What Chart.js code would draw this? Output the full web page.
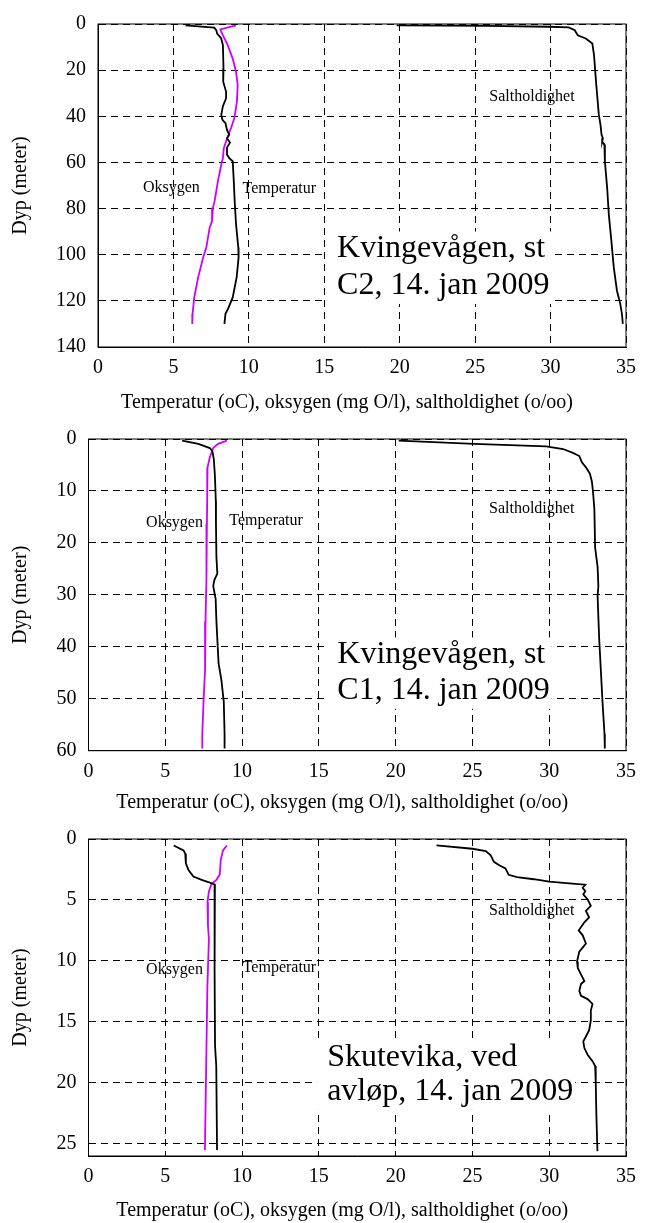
<!DOCTYPE html>
<html>
<head>
<meta charset="utf-8">
<script src="https://cdn.jsdelivr.net/npm/chart.js@4.4.1/dist/chart.umd.min.js"></script>
<style>
  html, body { margin: 0; padding: 0; background: #fff; }
  canvas { position: absolute; left: 0; display: block; }
</style>
</head>
<body>
<canvas id="c2Chart" width="645" height="415" style="top:0px"></canvas>
<canvas id="c1Chart" width="645" height="400" style="top:415px"></canvas>
<canvas id="skChart" width="645" height="408" style="top:815px"></canvas>
<script>
// Kvingevågen st C2
const c2TempX = [5.8, 7.7, 7.84, 7.9, 8.17, 8.28, 8.32, 8.3, 8.49, 8.49, 8.28, 8.17, 8.25, 8.45, 8.55, 8.7, 8.55, 8.75, 8.55, 8.55, 8.7, 8.93, 9.0, 9.06, 9.15, 9.3, 9.32, 9.19, 8.93, 8.62, 8.45, 8.38];
const c2TempDepth = [0.6, 1.6, 2.7, 4.2, 6.3, 9.2, 19.3, 25, 29.3, 32.2, 35.6, 39.4, 41.5, 43, 45.9, 48, 49.5, 51.4, 53.6, 56.6, 58.1, 59.5, 68, 76.8, 86.8, 96.9, 101.2, 109.8, 118.5, 123.5, 125.6, 130];
const c2OxyX = [9.15, 8.12, 8.17, 8.6, 8.93, 9.15, 9.26, 9.21, 9.04, 8.82, 8.56, 8.34, 8.28, 8.17, 7.95, 7.73, 7.62, 7.56, 7.4, 7.18, 6.97, 6.64, 6.38, 6.27, 6.25];
const c2OxyDepth = [0.6, 2.3, 3.4, 9.2, 15, 20.7, 26.4, 33.6, 40.8, 45.1, 49.5, 53.8, 58.1, 61, 68.1, 76.8, 79.6, 85.4, 88.3, 96.9, 101.2, 109.8, 118.5, 125.6, 130];
const c2SaltX = [19.8, 25.8, 29.9, 31.2, 31.6, 31.8, 32.33, 32.77, 32.88, 33.03, 33.2, 33.31, 33.38, 33.47, 33.42, 33.57, 33.6, 33.75, 33.86, 34.03, 34.19, 34.4, 34.62, 34.73, 34.79];
const c2SaltDepth = [0.6, 0.85, 1.2, 1.5, 2.7, 4.9, 6.3, 8.5, 13.5, 26.4, 39.4, 43.7, 48, 49.5, 50.9, 52.3, 59.5, 71, 82.5, 94, 105.5, 115.6, 121.3, 125.6, 130];

// Kvingevågen st C1
const c1TempX = [6.1, 7.15, 7.9, 8.07, 8.16, 8.23, 8.29, 8.3, 8.33, 8.39, 8.2, 8.12, 8.28, 8.33, 8.47, 8.65, 8.81, 8.86, 8.86];
const c1TempDepth = [0.32, 0.93, 1.74, 2.36, 3.9, 7, 11.9, 16.3, 22.8, 25.9, 27.1, 28.3, 30.8, 35.1, 43.2, 46.3, 50.6, 56.8, 59.6];
const c1OxyX = [9.01, 8.44, 8.12, 7.9, 7.75, 7.73, 7.71, 7.69, 7.67, 7.62, 7.59, 7.49, 7.41, 7.41];
const c1OxyDepth = [0.32, 0.93, 1.74, 3.5, 5.5, 11.5, 16.3, 22, 27.1, 35.1, 44.4, 50.6, 56.8, 59.6];
const c1SaltX = [20.2, 25.1, 29.8, 30.9, 31.54, 31.96, 32.13, 32.39, 32.65, 32.78, 32.85, 32.94, 32.99, 33.15, 33.2, 33.15, 33.25, 33.47, 33.6, 33.62];
const c1SaltDepth = [0.32, 0.93, 1.43, 1.93, 2.67, 3.28, 4.5, 5.45, 6.68, 8.2, 10.1, 13.5, 20.9, 24.6, 28.3, 30.2, 38.2, 50.6, 56.8, 59.6];

// Skutevika, ved avløp
const skTempX = [5.55, 6.19, 6.3, 6.34, 6.51, 6.83, 7.37, 7.8, 8.23, 8.23, 8.19, 8.24, 8.32, 8.37];
const skTempDepth = [0.53, 0.93, 1.2, 2.0, 2.54, 3.08, 3.35, 3.53, 3.75, 7.1, 10.8, 17, 18.6, 25.5];
const skOxyX = [9.01, 8.76, 8.61, 8.55, 8.33, 8.01, 7.84, 7.75, 7.78, 7.84, 7.74, 7.66, 7.58];
const skOxyDepth = [0.53, 0.93, 1.73, 2.9, 3.35, 3.67, 4.3, 5.2, 7.1, 8.2, 12.2, 18.85, 25.5];
const skSaltX = [22.66, 25.0, 25.87, 26.19, 26.4, 26.72, 27.15, 27.36, 27.9, 29.0, 30.0, 31.5, 32.35, 32.18, 32.35, 32.22, 32.5, 32.71, 32.39, 32.6, 32.29, 31.92, 32.18, 32.39, 31.96, 31.81, 31.86, 32.07, 32.29, 32.07, 31.96, 32.07, 32.5, 32.82, 32.71, 32.71, 32.6, 32.39, 32.22, 32.29, 32.5, 32.82, 32.99, 33.03, 33.07, 33.14];
const skSaltDepth = [0.53, 0.8, 0.99, 1.34, 1.87, 2.14, 2.41, 2.94, 3.13, 3.3, 3.5, 3.66, 3.75, 4.0, 4.28, 4.55, 4.95, 5.49, 5.89, 6.43, 6.83, 7.5, 7.9, 8.57, 9.24, 10.05, 10.58, 11.1, 11.65, 11.9, 12.46, 12.86, 13.13, 13.53, 14.07, 14.87, 15.68, 16.2, 16.6, 17.15, 17.69, 18.22, 18.62, 19.96, 22.6, 25.6];

const xTicksMax = 35;
const xTitle = 'Temperatur (oC), oksygen (mg O/l), saltholdighet (o/oo)';
const yTitle = 'Dyp (meter)';

const serif = "'Liberation Serif', 'Times New Roman', serif";
Chart.defaults.font.family = serif;
Chart.defaults.color = '#000';

function pts(xs, depths) {
    return xs.map((v, i) => ({ x: v, y: depths[i] }));
}

// draws the frame, the curve labels, the note box and the x axis title
const panelText = {
    id: 'panelText',
    beforeDatasetsDraw(chart, args, opts) {
        const { ctx, scales: { x, y } } = chart;
        ctx.save();
        ctx.font = `32px ${serif}`;
        const left = x.getPixelForValue(opts.noteX);
        const width = Math.max(...opts.note.map(t => ctx.measureText(t).width));
        const top = y.getPixelForValue(opts.noteDepth[0]) - 26;
        const bottom = y.getPixelForValue(opts.noteDepth[opts.note.length - 1]) + 10;
        ctx.fillStyle = '#fff';
        ctx.fillRect(left - 10, top, width + 12, bottom - top);
        ctx.fillStyle = '#000';
        ctx.textAlign = 'left';
        ctx.textBaseline = 'alphabetic';
        opts.note.forEach((line, i) => {
            ctx.fillText(line, left, y.getPixelForValue(opts.noteDepth[i]));
        });
        ctx.restore();
    },
    afterDraw(chart, args, opts) {
        const { ctx, chartArea: a, scales: { x, y } } = chart;
        ctx.save();
        ctx.strokeStyle = '#000';
        ctx.lineWidth = 1;
        ctx.setLineDash([]);
        ctx.strokeRect(a.left, a.top, a.width, a.height);

        ctx.fillStyle = '#000';
        ctx.textAlign = 'left';
        ctx.textBaseline = 'middle';
        ctx.font = `16px ${serif}`;
        opts.labels.forEach(l => {
            ctx.fillText(l.text, x.getPixelForValue(l.x), y.getPixelForValue(l.y));
        });

        ctx.font = `20px ${serif}`;
        ctx.textAlign = 'center';
        ctx.fillText(xTitle, (a.left + a.right) / 2 - 15, chart.height - 12);
        ctx.restore();
    }
};

function makePanel(id, p) {
    const ctx = document.getElementById(id).getContext('2d');
    return new Chart(ctx, {
        type: 'scatter',
        data: {
            datasets: [
                { label: 'Temperatur', data: pts(p.temp[0], p.temp[1]), borderColor: '#000' },
                { label: 'Oksygen', data: pts(p.oxy[0], p.oxy[1]), borderColor: '#cc00ff' },
                { label: 'Saltholdighet', data: pts(p.salt[0], p.salt[1]), borderColor: '#000' }
            ]
        },
        options: {
            responsive: false,
            animation: false,
            showLine: true,
            elements: {
                point: { radius: 0, hoverRadius: 0 },
                line: { borderWidth: 1.8, tension: 0, fill: false }
            },
            layout: { padding: { top: p.padTop, right: 11, left: 0, bottom: 0 } },
            plugins: {
                legend: { display: false },
                tooltip: { enabled: false },
                panelText: { labels: p.labels, note: p.note, noteX: p.noteX, noteDepth: p.noteDepth }
            },
            scales: {
                x: {
                    type: 'linear',
                    min: 0,
                    max: xTicksMax,
                    afterFit: s => { s.height = p.xHeight; },
                    ticks: { stepSize: 5, padding: 9, font: { size: 20 }, maxRotation: 0 },
                    grid: { color: '#000', lineWidth: 1, drawTicks: false },
                    border: { display: true, color: '#000', width: 1, dash: [7, 5] }
                },
                y: {
                    type: 'linear',
                    reverse: true,
                    min: 0,
                    max: p.maxDepth,
                    afterFit: s => { s.width = p.yWidth; },
                    ticks: { stepSize: p.depthStep, padding: 12, font: { size: 20 }, includeBounds: false },
                    grid: { color: '#000', lineWidth: 1, drawTicks: false },
                    border: { display: true, color: '#000', width: 1, dash: [7, 5] },
                    title: { display: true, text: yTitle, font: { size: 20 }, padding: { top: 9, bottom: 0 } }
                }
            }
        },
        plugins: [panelText]
    });
}

makePanel('c2Chart', {
    temp: [c2TempX, c2TempDepth], oxy: [c2OxyX, c2OxyDepth], salt: [c2SaltX, c2SaltDepth],
    maxDepth: 140, depthStep: 20, padTop: 22, yWidth: 98, xHeight: 68,
    labels: [
        { text: 'Oksygen', x: 2.98, y: 71.2 },
        { text: 'Temperatur', x: 9.58, y: 71.6 },
        { text: 'Saltholdighet', x: 25.94, y: 31.5 }
    ],
    note: ['Kvingevågen, st', 'C2, 14. jan 2009'], noteX: 15.85, noteDepth: [101.2, 117]
});

makePanel('c1Chart', {
    temp: [c1TempX, c1TempDepth], oxy: [c1OxyX, c1OxyDepth], salt: [c1SaltX, c1SaltDepth],
    maxDepth: 60, depthStep: 10, padTop: 12.3, yWidth: 88.5, xHeight: 64.3,
    labels: [
        { text: 'Oksygen', x: 3.75, y: 16.1 },
        { text: 'Temperatur', x: 9.17, y: 15.7 },
        { text: 'Saltholdighet', x: 26.08, y: 13.5 }
    ],
    note: ['Kvingevågen, st', 'C1, 14. jan 2009'], noteX: 16.2, noteDepth: [43.2, 50.0]
});

makePanel('skChart', {
    temp: [skTempX, skTempDepth], oxy: [skOxyX, skOxyDepth], salt: [skSaltX, skSaltDepth],
    maxDepth: 26, depthStep: 5, padTop: 16.7, yWidth: 88.5, xHeight: 67,
    labels: [
        { text: 'Oksygen', x: 3.75, y: 10.7 },
        { text: 'Temperatur', x: 10.04, y: 10.6 },
        { text: 'Saltholdighet', x: 26.08, y: 5.9 }
    ],
    note: ['Skutevika, ved', 'avløp, 14. jan 2009'], noteX: 15.54, noteDepth: [18.6, 21.4]
});
</script>
</body>
</html>
